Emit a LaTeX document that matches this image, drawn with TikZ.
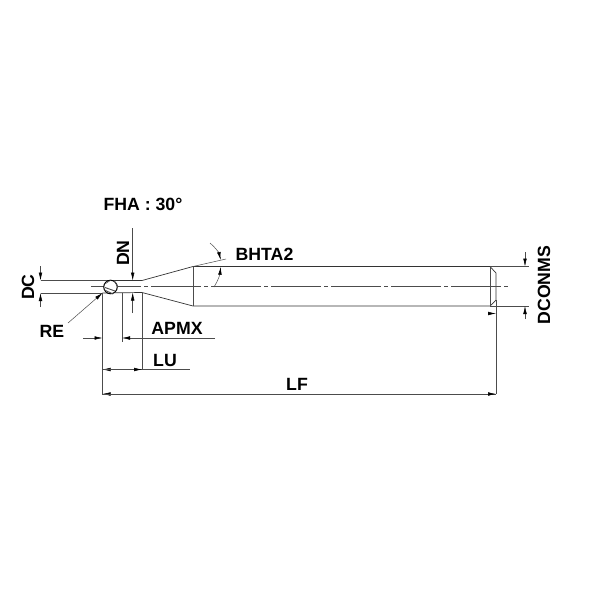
\documentclass[tikz,border=0pt]{standalone}
\usepackage{fontspec}
\setmainfont{Liberation Sans}
\usetikzlibrary{arrows.meta}
\tikzstyle{part}=[draw=black!80, line width=0.7pt]
\tikzstyle{thin}=[draw=black!70, line width=0.5pt]
\tikzstyle{axis}=[draw=black!70, line width=0.5pt, dash pattern=on 50pt off 3pt on 4pt off 3pt]
\tikzstyle{dim}=[draw=black!70, line width=0.5pt, -{Latex[black,length=8pt,width=3.6pt]}]
\tikzstyle{lbl}=[font=\bfseries\fontsize{17.7}{19}\selectfont, inner sep=0pt, text=black]

\begin{document}
\begin{tikzpicture}[x=1pt, y=-1pt]
\useasboundingbox[fill=white] (0,0) rectangle (600,600);

% Outline
\coordinate (tipT) at (107,280.5);
\coordinate (tipB) at (102.5,293);
\coordinate (neckT) at (142,280.5);
\coordinate (neckB) at (142,292.5);
\coordinate (coneT) at (193,266.5);
\coordinate (coneB) at (193,306);
\coordinate (endT) at (490,266.5);
\coordinate (endB) at (490,306);
\coordinate (chamT) at (496,273);
\coordinate (chamB) at (496,300);
\draw[part] (tipT) -- (neckT) -- (coneT) -- (endT) -- (chamT) -- (chamB) -- (endB) -- (coneB) -- (neckB) -- (tipB);
\draw[thin] (coneT) -- (coneB);
\draw[thin] (endT) -- (endB);
\draw[axis] (91,286.5) -- (510,286.5);

% Ball
\node (ball) [circle, fill=white, draw=black, line width=1pt, minimum size=13.5pt, inner sep=0pt] at (110.5,287) {};
\draw[thin, line width=0.9pt] (104.5,290) -- (113,294);
\draw[thin, line width=0.9pt] (105,287.5) -- (115,291);
\draw[thin] (105,284) -- (111,280);
\draw[thin, line width=0.9pt] (114,280.5) -- (118,287);

% DC
\coordinate (dcT) at (40.5,280.5);
\coordinate (dcB) at (40.5,293);
\draw[thin] (dcT) -- (tipT);
\draw[thin] (dcB) -- (tipB);
\coordinate (dcTop) at (40.5,266);
\coordinate (dcBot) at (40.5,307);
\draw[dim] (dcTop) -- (dcT);
\draw[dim] (dcBot) -- (dcB);
\node (dcLabel) [lbl, rotate=90] at (28,287) {DC};

% DN
\coordinate (dnTop) at (132.7,228);
\coordinate (dnBot) at (132.7,313);
\draw[dim] (dnTop) -- (132.7,280.5);
\draw[dim] (dnBot) -- (132.7,292.5);
\node (dnLabel) [lbl, rotate=90] at (123,253) {DN};

% RE
\node (reLabel) [lbl] at (52,331) {RE};
\draw[dim] (68,323) -- (tipB);

% APMX
\coordinate (apL) at (102.5,338);
\coordinate (apR) at (122,338);
\draw[thin] (tipB) -- (102.5,395);
\draw[thin] (122,292.5) -- (122,342);
\draw[thin] (neckB) -- (142,370);
\draw[dim] (83,338) -- (apL);
\draw[dim] (215,338) -- (apR);
\node (apLabel) [lbl] at (177,328) {APMX};

% LU
\coordinate (luL) at (102.5,369.5);
\coordinate (luR) at (142,369.5);
\draw[dim] (luR) -- (luL);
\draw[dim] (luL) -- (luR);
\draw[thin] (luR) -- (190,369.5);
\node (luLabel) [lbl] at (165,360) {LU};

% LF
\coordinate (lfL) at (102.5,394);
\coordinate (lfR) at (496,394);
\draw[thin] (chamB) -- (lfR);
\draw[dim] (lfR) -- (lfL);
\draw[dim] (lfL) -- (lfR);
\node (lfLabel) [lbl] at (297,384) {LF};

% DCONMS
\coordinate (dsT) at (525,266.5);
\coordinate (dsB) at (525,306);
\draw[thin] (endT) -- (529,266.5);
\draw[thin] (endB) -- (529,306);
\draw[dim] (525,252) -- (dsT);
\draw[dim] (525,319) -- (dsB);
\node (dsLabel) [lbl, rotate=90] at (544,285) {DCONMS};
\draw[dim] (488,313.5) -- (496,313.5);

% BHTA2
\coordinate (angA) at (220.7,260);
\coordinate (angB) at (220.7,266.8);
\draw[thin] (coneT) -- (226,259);
\draw[dim] (210,243) .. controls (215,247) and (219,253) .. (angA);
\draw[dim] (214,287) .. controls (218,281) and (220,274) .. (angB);
\node (angLabel) [lbl] at (264.5,254) {BHTA2};

\node (fhaLabel) [lbl] at (143,204) {FHA : 30°};
\end{tikzpicture}
\end{document}
